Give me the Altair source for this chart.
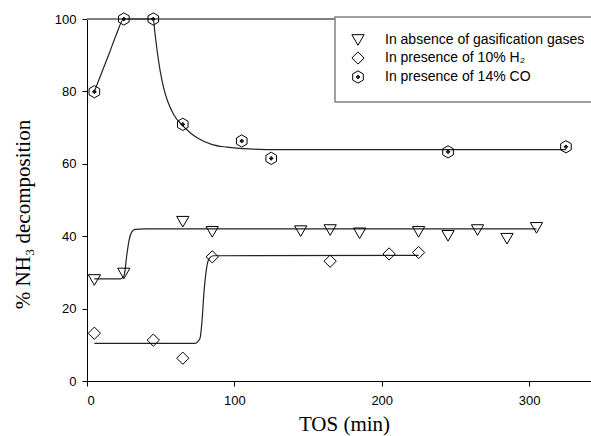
import altair as alt
import pandas as pd

SERIES = [
    "In absence of gasification gases",
    "In presence of 10% H₂",
    "In presence of 14% CO",
]

# Measured NH3 decomposition (%) versus time on stream (min)
tos_none = [5, 25, 65, 85, 145, 165, 185, 225, 245, 265, 285, 305]
nh3_none = [27.9, 29.7, 44.0, 41.2, 41.4, 41.7, 40.8, 41.2, 40.1, 41.7, 39.3, 42.3]

tos_h2 = [5, 45, 65, 85, 165, 205, 225]
nh3_h2 = [13.2, 11.3, 6.3, 34.3, 33.1, 35.1, 35.5]

tos_co = [5, 25, 45, 65, 105, 125, 245, 325]
nh3_co = [79.9, 100, 100, 70.9, 66.3, 61.5, 63.3, 64.7]

# Fitted trend curves (vertices of each smooth curve)
fit_none_x = [5, 22.4, 24, 25.3, 27, 28.6, 30.4, 32.6, 39.4, 305]
fit_none_y = [28.2, 28.2, 28.5, 29.3, 34.8, 39.0, 41.2, 41.9, 42.0, 42.0]

fit_h2_x = [5, 73.3, 76.7, 77.9, 79.5, 81.3, 83, 85.7, 225]
fit_h2_y = [10.4, 10.4, 11.8, 15.9, 25.1, 31.6, 33.9, 34.6, 34.7]

fit_co_x = [5, 10, 15, 20, 25, 45, 46, 47.5, 49.5, 52, 55, 59, 64.3, 70, 75.6, 85, 95, 110, 130, 325]
fit_co_y = [80, 85.2, 90.4, 95.8, 100, 100, 96.5, 91.5, 86, 81, 77, 73.5, 70.8, 68.6, 67, 65.3, 64.6, 64.1, 63.9, 63.9]

x_ticks = [0, 100, 200, 300]
y_ticks = [0, 20, 40, 60, 80, 100]

HEXAGON = (
    "M0,-1L0.866,-0.5L0.866,0.5L0,1L-0.866,0.5L-0.866,-0.5Z"
    "M0,-0.3L0.3,0L0,0.3L-0.3,0Z M-0.3,0L0.3,0 M0,-0.3L0,0.3"
)
SHAPES = ["triangle-down", "diamond", HEXAGON]


def frame(xs, ys, name):
    return pd.DataFrame({"tos": xs, "nh3": ys, "series": name})


points_df = pd.concat([
    frame(tos_none, nh3_none, SERIES[0]),
    frame(tos_h2, nh3_h2, SERIES[1]),
    frame(tos_co, nh3_co, SERIES[2]),
])
fits_df = pd.concat([
    frame(fit_none_x, fit_none_y, SERIES[0]),
    frame(fit_h2_x, fit_h2_y, SERIES[1]),
    frame(fit_co_x, fit_co_y, SERIES[2]),
])

x_enc = alt.X(
    "tos:Q",
    scale=alt.Scale(domain=[0, 342], nice=False, zero=False),
    axis=alt.Axis(
        values=x_ticks, title="TOS (min)", titleX=257, titleY=49,
        titleBaseline="alphabetic", titleAlign="center", labelPadding=8,
    ),
)
y_enc = alt.Y(
    "nh3:Q",
    scale=alt.Scale(domain=[0, 100], nice=False),
    axis=alt.Axis(
        values=y_ticks, title="% NH₃ decomposition", titleAngle=270,
        titleX=-58, titleY=195, titleBaseline="alphabetic", titleAlign="center",
    ),
)

top_line = alt.Chart(pd.DataFrame({"nh3": [100]})).mark_rule(
    color="#808080", strokeWidth=2
).encode(y="nh3:Q")

fits = alt.Chart(fits_df).mark_line(
    interpolate="monotone", color="#222222", strokeWidth=1.2
).encode(x=x_enc, y=y_enc, detail="series:N")

points = alt.Chart(points_df).mark_point(
    filled=False, color="black", strokeWidth=1, size=150, opacity=1
).encode(
    x=x_enc,
    y=y_enc,
    shape=alt.Shape(
        "series:N",
        scale=alt.Scale(domain=SERIES, range=SHAPES),
        legend=alt.Legend(title=None, orient="none", legendX=248, legendY=-2),
    ),
)

chart = (
    alt.layer(top_line, fits, points)
    .properties(
        width=504,
        height=362,
        padding={"left": 87, "top": 19, "right": 0, "bottom": 55},
        autosize=alt.AutoSizeParams(type="none"),
        background="white",
    )
    .configure_view(stroke=None)
    .configure_axis(
        grid=False,
        domainColor="black",
        tickColor="black",
        tickSize=5,
        labelFont="Liberation Sans",
        labelFontSize=13,
        labelColor="black",
        labelPadding=6,
        titleFont="Liberation Serif",
        titleFontSize=21,
        titleFontWeight="normal",
        titleColor="black",
    )
    .configure_legend(
        padding=16,
        strokeColor="#808080",
        strokeWidth=1.5,
        fillColor="white",
        labelFont="Liberation Sans",
        labelFontSize=14,
        labelColor="black",
        labelLimit=0,
        labelOffset=20,
        rowPadding=1,
        symbolSize=150,
        symbolStrokeWidth=1,
        symbolStrokeColor="black",
        symbolFillColor="transparent",
    )
)

chart.save("out.html", embed_options={"renderer": "svg", "actions": False})
